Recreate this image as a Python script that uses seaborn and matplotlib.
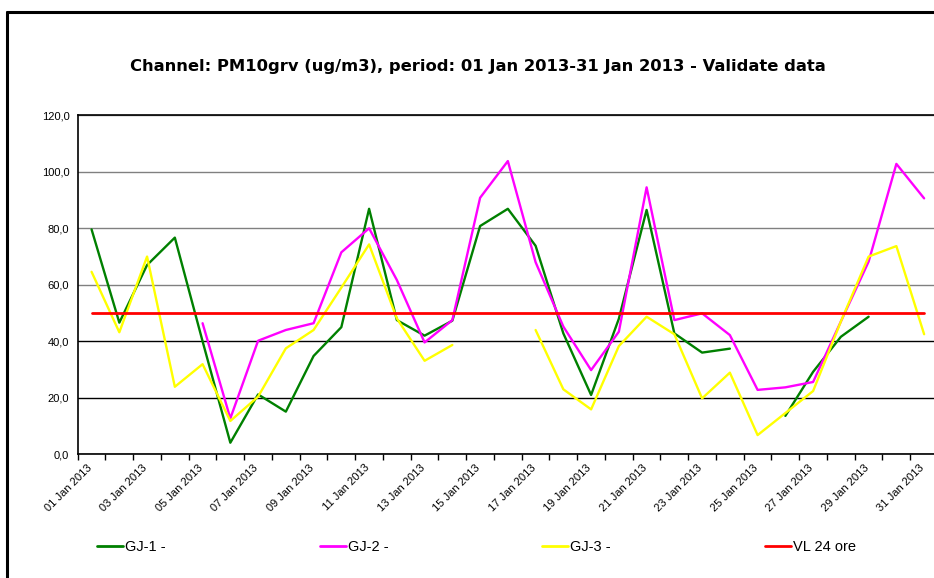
import numpy as np
import pandas as pd
import matplotlib
matplotlib.use("Agg")
import matplotlib.pyplot as plt
from matplotlib.lines import Line2D
from matplotlib.transforms import offset_copy
import seaborn as sns

# --- DATA ---
days = list(range(1, 32))
day_labels = [f"{d:02d} Jan 2013" for d in days]
nan = np.nan
gj1 = [79.6, 46.6, 67.0, 76.7, 40.0, 4.1, 21.2, 15.1, 34.8, 45.0, 86.9, 47.5, 42.0, 47.3, 80.8, 86.9,
       73.8, 42.8, 21.0, 48.0, 86.5, 42.8, 36.0, 37.4, nan, 13.6, 29.2, 41.6, 48.7, nan, nan]
gj2 = [nan, nan, nan, nan, 46.4, 12.7, 40.2, 44.0, 46.4, 71.5, 80.0, 61.7, 39.6, 47.5, 90.8, 103.8,
       68.0, 45.2, 29.8, 43.4, 94.5, 47.5, 49.9, 42.2, 22.8, 23.7, 25.6, 47.0, 68.2, 102.8, 90.6]
gj3 = [64.6, 43.2, 70.0, 23.9, 31.9, 11.8, 20.4, 37.5, 44.0, 59.0, 74.3, 48.1, 33.1, 38.7, nan, nan,
       44.0, 23.0, 15.9, 38.3, 48.7, 42.5, 19.8, 28.9, 6.8, 14.6, 22.4, 47.0, 70.0, 73.7, 42.5]
vl24 = [50.0] * 31

series_names = ["GJ-1 -", "GJ-2 -", "GJ-3 -", "VL 24 ore"]
series_values = [gj1, gj2, gj3, vl24]
series_colors = ["#008000", "#FF00FF", "#FFFF00", "#FF0000"]

# long table, with a segment id so gaps stay as gaps
frames = []
for name, vals in zip(series_names, series_values):
    s = pd.Series(vals, dtype=float)
    seg = s.isna().cumsum()
    frames.append(pd.DataFrame({"pos": np.arange(len(days)), "value": s, "series": name, "seg": seg}))
df = pd.concat(frames).dropna(subset=["value"])

# --- STYLE ---
sns.set_style("white")
plt.rcParams["font.family"] = ["Liberation Sans", "DejaVu Sans"]
plt.rcParams["text.color"] = "black"
plt.rcParams["xtick.color"] = "black"
plt.rcParams["ytick.color"] = "black"
plt.rcParams["axes.labelcolor"] = "black"

W, H = 934, 578
fig = plt.figure(figsize=(W / 100, H / 100), dpi=100)
ax_left, ax_right, ax_top, ax_bot = 77.7, 938.0, 115.3, 454.3
ax = fig.add_axes([ax_left / W, 1 - ax_bot / H, (ax_right - ax_left) / W, (ax_bot - ax_top) / H])

for name, color in zip(series_names, series_colors):
    sub = df[df["series"] == name]
    lw = 2.0 if name == "VL 24 ore" else 1.7
    sns.lineplot(data=sub, x="pos", y="value", units="seg", estimator=None, color=color,
                 lw=lw, ax=ax, legend=False, zorder=3)

ax.set_xlim(-0.5, len(days) - 0.5)
ax.set_ylim(0, 120)
ax.set_xlabel("")
ax.set_ylabel("")

# y axis
yt = np.arange(0, 121, 20)
ax.set_yticks(yt)
ax.set_yticklabels([f"{v:.1f}".replace(".", ",") for v in yt], fontsize=8)
ax.tick_params(axis="y", which="major", direction="out", length=4, width=1, pad=2)
ax.yaxis.grid(True, lw=1)
for v, gl in zip(yt, ax.yaxis.get_gridlines()):
    gl.set_color("black" if v <= 40 else "#808080")

# x axis: tick marks on category borders, labels every other day
ax.set_xticks(np.arange(-0.5, len(days), 1.0))
ax.set_xticklabels([])
ax.tick_params(axis="x", which="major", direction="out", length=4, width=1, bottom=True)
ax.set_xticks(np.arange(0, len(days), 2), minor=True)
ax.set_xticklabels(day_labels[::2], minor=True, rotation=45, ha="right", rotation_mode="anchor",
                   fontsize=8)
ax.tick_params(axis="x", which="minor", length=0, pad=6)
for lab in ax.get_xticklabels(minor=True):
    lab.set_transform(offset_copy(lab.get_transform(), fig=fig, x=-5, y=0, units="dots"))

for sp in ["left", "bottom", "top"]:
    ax.spines[sp].set_color("black")
    ax.spines[sp].set_linewidth(1.2)
ax.spines["right"].set_visible(False)

fig.text(478 / W, 1 - 67 / H,
         "Channel: PM10grv (ug/m3), period: 01 Jan 2013-31 Jan 2013 - Validate data",
         ha="center", va="center", fontsize=11.8, fontweight="bold", family="DejaVu Sans",
         color="black")

# legend entries spaced like the reference
leg_x = [97, 320, 542, 765]
for x0, name, color in zip(leg_x, series_names, series_colors):
    h = Line2D([0], [0], color=color, lw=2)
    fig.legend([h], [name], loc="center left", bbox_to_anchor=(x0 / W, 1 - 547 / H),
               frameon=False, fontsize=10.5, handlelength=1.75, handletextpad=0.2,
               borderpad=0, borderaxespad=0)

# outer chart border (left and top visible)
fig.add_artist(Line2D([7 / W, 7 / W], [0, 1 - 12 / H], color="black", lw=2.2))
fig.add_artist(Line2D([7 / W, 1], [1 - 12 / H, 1 - 12 / H], color="black", lw=2.2))

fig.savefig("out.png", dpi=100)
